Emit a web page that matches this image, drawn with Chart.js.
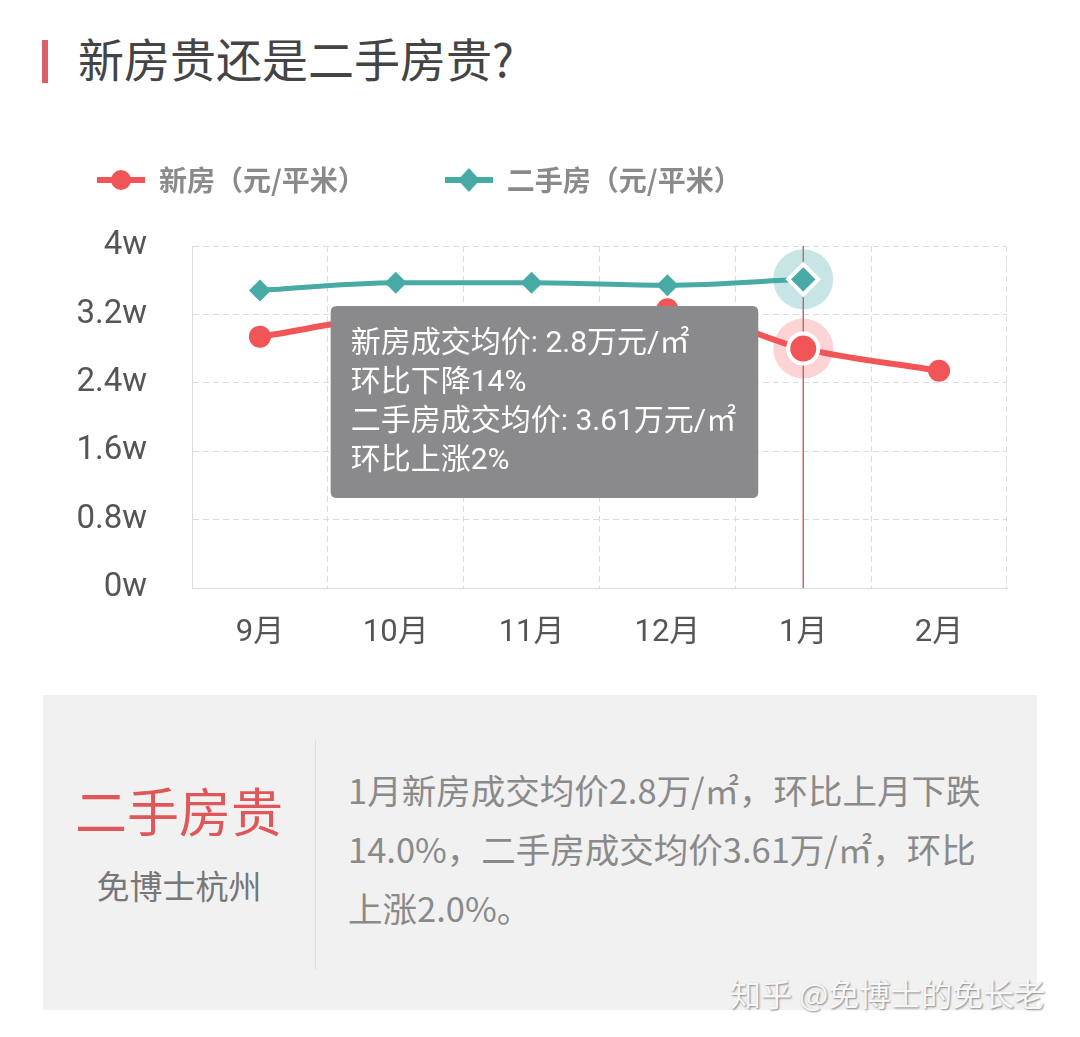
<!DOCTYPE html>
<html lang="zh-CN">
<head>
<meta charset="utf-8">
<title>新房贵还是二手房贵?</title>
<script src="https://cdn.jsdelivr.net/npm/chart.js@4.4.1/dist/chart.umd.min.js"></script>
<style>
  body { margin: 0; width: 1080px; height: 1037px; background: #fff; position: relative; overflow: hidden;
         font-family: "Noto Sans CJK SC", "Noto Sans", sans-serif; }
  .title-bar { position: absolute; left: 42px; top: 40px; width: 6px; height: 43px; background: #d9606a; }
  .title { position: absolute; left: 78px; top: 27px; font-size: 46px; line-height: 60px; color: #444; }
  #wrap { position: absolute; left: 18px; top: 87px; width: 1040px; height: 580px; }
  .card { position: absolute; left: 43px; top: 695px; width: 994px; height: 315px; background: #f1f1f1; }
  .card .tag { position: absolute; left: 0; width: 272px; top: 82px; text-align: center; font-size: 52px; line-height: 66px; color: #e0575a; }
  .card .src { position: absolute; left: 0; width: 272px; top: 168px; text-align: center; font-size: 33px; line-height: 44px; color: #777; }
  .card .sep { position: absolute; left: 272px; top: 45px; width: 1px; height: 230px; background: #dedede; }
  .card .txt { position: absolute; left: 305px; top: 65px; font-size: 34.5px; line-height: 59px; color: #8a8a8a; white-space: nowrap; }
  .mark { position: absolute; left: 730px; top: 972px; font-size: 31px; line-height: 42px; color: #f6f6f6;
          text-shadow: 1px 1px 2px rgba(0,0,0,0.45); white-space: nowrap; }
</style>
</head>
<body>
<div class="title-bar"></div>
<div class="title">新房贵还是二手房贵?</div>
<div id="wrap"><canvas id="priceChart"></canvas></div>
<div class="card">
  <div class="tag">二手房贵</div>
  <div class="src">免博士杭州</div>
  <div class="sep"></div>
  <div class="txt">1月新房成交均价2.8万/㎡，环比上月下跌<br>14.0%，二手房成交均价3.61万/㎡，环比<br>上涨2.0%。</div>
</div>
<div class="mark">知乎 @免博士的免长老</div>

<script>
// --- Données ---
const months = ['9月', '10月', '11月', '12月', '1月', '2月'];
const newHouse = [29400, 31600, 31400, 32600, 28000, 25400];      // 元/平米
const secondHand = [34800, 35700, 35700, 35400, 36100, null];    // 元/平米
const yTickLabels = ['0w', '0.8w', '1.6w', '2.4w', '3.2w', '4w'];
const seriesNames = ['新房（元/平米）', '二手房（元/平米）'];
const tipNames = ['新房成交均价', '二手房成交均价'];
const activeIndex = 4; // 1月

const RED = '#f25557';
const TEAL = '#47aaa5';

Chart.defaults.font.family = "Roboto, 'Noto Sans CJK SC', sans-serif";

// --- Marqueur de légende : trait + point ---
function legendMarker(color, shape) {
  const c = document.createElement('canvas');
  c.width = 48; c.height = 26;
  const ctx = c.getContext('2d');
  ctx.fillStyle = color;
  ctx.strokeStyle = color;
  ctx.lineWidth = 6;
  ctx.beginPath(); ctx.moveTo(0, 13); ctx.lineTo(48, 13); ctx.stroke();
  ctx.beginPath();
  if (shape === 'circle') {
    ctx.arc(24, 13, 10, 0, Math.PI * 2);
  } else {
    ctx.moveTo(24, 1); ctx.lineTo(35, 13); ctx.lineTo(24, 25); ctx.lineTo(13, 13); ctx.closePath();
  }
  ctx.fill();
  return c;
}
const markers = [legendMarker(RED, 'circle'), legendMarker(TEAL, 'diamond')];

// --- Espace sous la légende ---
const legendGap = {
  id: 'legendGap',
  beforeInit(chart) {
    const fit = chart.legend.fit;
    chart.legend.fit = function () { fit.call(this); this.height += 42; };
  }
};

// --- Ligne verticale + halo sur le point actif ---
const hoverDeco = {
  id: 'hoverDeco',
  beforeDatasetsDraw(chart) {
    const active = chart.getActiveElements();
    if (!active.length) return;
    const { ctx, chartArea } = chart;
    const x = active[0].element.x;
    ctx.save();
    ctx.strokeStyle = 'rgba(185,75,85,0.85)';
    ctx.lineWidth = 1.5;
    ctx.beginPath(); ctx.moveTo(x, chartArea.top); ctx.lineTo(x, chartArea.bottom); ctx.stroke();
    active.forEach(a => {
      ctx.fillStyle = a.datasetIndex === 0 ? 'rgba(242,85,87,0.25)' : 'rgba(71,170,165,0.3)';
      ctx.beginPath(); ctx.arc(a.element.x, a.element.y, 30, 0, Math.PI * 2); ctx.fill();
    });
    ctx.restore();
  }
};

Chart.Tooltip.positioners.leftOfPoint = function (items) {
  if (!items.length) return false;
  const area = this.chart.chartArea;
  return { x: items[0].element.x - 45, y: area.top + 156 };
};

const chart = new Chart(document.getElementById('priceChart'), {
  type: 'line',
  data: {
    labels: months,
    datasets: [{
      label: seriesNames[0],
      data: newHouse,
      borderColor: RED,
      backgroundColor: RED,
      borderWidth: 6,
      pointRadius: 11,
      pointBorderWidth: 0,
      pointHoverRadius: 15,
      pointHoverBorderWidth: 4,
      pointHoverBorderColor: '#fff',
      pointHoverBackgroundColor: RED,
      cubicInterpolationMode: 'monotone'
    }, {
      label: seriesNames[1],
      data: secondHand,
      borderColor: TEAL,
      backgroundColor: TEAL,
      borderWidth: 5,
      pointStyle: 'rectRot',
      pointRadius: 11,
      pointBorderWidth: 0,
      pointHoverRadius: 15,
      pointHoverBorderWidth: 4,
      pointHoverBorderColor: '#fff',
      pointHoverBackgroundColor: TEAL,
      cubicInterpolationMode: 'monotone'
    }]
  },
  options: {
    responsive: true,
    maintainAspectRatio: false,
    animation: false,
    events: [],
    layout: { padding: { left: 0, right: 51, top: 0, bottom: 0 } },
    plugins: {
      legend: {
        position: 'top',
        align: 'start',
        labels: {
          usePointStyle: true,
          pointStyleWidth: 48,
          padding: 79,
          color: '#8a8a8a',
          font: { size: 28, weight: 'bold', family: "'Noto Sans CJK SC', sans-serif" },
          generateLabels: (chart) => chart.data.datasets.map((ds, i) => ({
            text: ds.label,
            pointStyle: markers[i],
            fillStyle: ds.borderColor,
            strokeStyle: ds.borderColor,
            lineWidth: 0,
            fontColor: '#8a8a8a',
            datasetIndex: i
          }))
        }
      },
      tooltip: {
        position: 'leftOfPoint',
        xAlign: 'right',
        yAlign: 'center',
        caretSize: 0,
        caretPadding: 0,
        cornerRadius: 6,
        backgroundColor: '#8a898b',
        displayColors: false,
        bodyColor: '#fff',
        bodyFont: { size: 30, family: "Roboto, 'Noto Sans CJK SC', sans-serif" },
        bodySpacing: 3,
        padding: { top: 20, bottom: 19, left: 20, right: 22 },
        callbacks: {
          title: () => '',
          label(ctx) {
            const d = ctx.dataset.data;
            const v = d[ctx.dataIndex];
            const prev = d[ctx.dataIndex - 1];
            const pct = Math.round(Math.abs(v - prev) / prev * 100);
            return [
              tipNames[ctx.datasetIndex] + ': ' + (v / 10000) + '万元/㎡',
              '环比' + (v < prev ? '下降' : '上涨') + pct + '%'
            ];
          }
        }
      }
    },
    scales: {
      x: {
        offset: true,
        ticks: { padding: 27, color: '#555', font: { size: 31 } },
        grid: { color: '#dcdcdc', drawTicks: false, offset: true },
        border: { display: true, color: '#dcdcdc', dash: [6, 4] },
        afterFit(s) { s.height = 79; }
      },
      y: {
        min: 0,
        max: 40000,
        ticks: {
          stepSize: 8000,
          padding: 45,
          color: '#555',
          font: { size: 33 },
          callback: (v, i) => yTickLabels[i]
        },
        grid: { color: '#dcdcdc', drawTicks: false },
        border: { display: true, color: '#dcdcdc', dash: [6, 4] },
        afterFit(s) { s.width = 174; }
      }
    }
  },
  plugins: [legendGap, hoverDeco]
});

// --- Point actif : 1月 ---
const active = [{ datasetIndex: 0, index: activeIndex }, { datasetIndex: 1, index: activeIndex }];
chart.setActiveElements(active);
chart.tooltip.setActiveElements(active, { x: 0, y: 0 });
chart.update();
</script>
</body>
</html>
